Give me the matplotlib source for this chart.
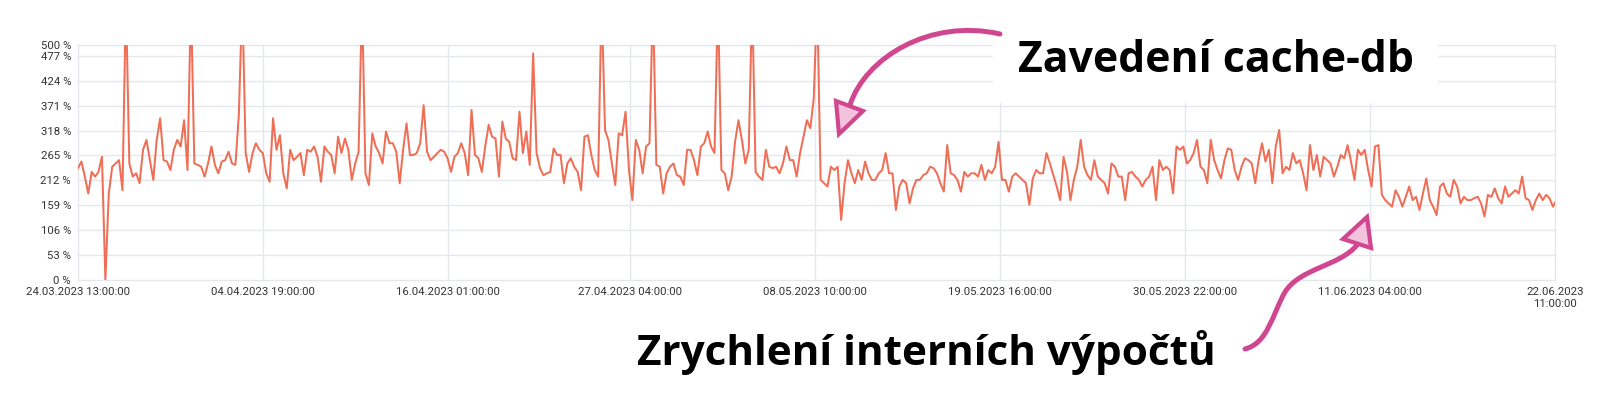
import matplotlib
matplotlib.use('Agg')
import matplotlib.pyplot as plt
import pandas as pd
from matplotlib.patches import Rectangle, PathPatch, Polygon
from matplotlib.path import Path
from matplotlib.transforms import Affine2D

# ratio values in %, one reading every 5 hours from 24.03.2023 13:00
START = '2023-03-24 13:00'
STEP = '5h'

seg_mar_apr = [238, 252, 220, 184, 230, 220, 230, 262, 0, 184,
               241, 248, 255, 191, 600, 248, 220, 227, 206, 277,
               298, 255, 213, 298, 344, 255, 252, 234, 277, 298,
               284, 340, 234, 600, 248, 245, 241, 220, 248, 284,
               245, 227, 252, 255, 273, 248, 245, 351, 600, 270,
               230, 270, 291, 277, 270, 227, 209, 344, 277, 308,
               227, 195, 277, 255, 262, 270, 223, 277, 273, 284,
               262, 209, 284]
seg_apr = [273, 266, 227, 305, 270, 301, 277, 213, 248, 273,
           600, 227, 202, 312, 284, 270, 248, 316, 291, 291,
           273, 206, 277, 333, 266, 266, 270, 291, 372, 273,
           255, 262, 270, 277, 273, 259, 230, 262, 270, 291,
           270, 223, 362, 266, 259, 230, 284, 330, 305, 301,
           220, 337, 301, 294, 259, 255, 358, 270, 316, 245,
           482, 270, 238, 223, 227, 230, 280, 266, 266, 206,
           248, 259, 241]
seg_apr_may = [230, 191, 305, 308, 266, 234, 220, 600, 319, 298,
               248, 202, 312, 308, 358, 234, 170, 298, 277, 227,
               284, 291, 600, 245, 241, 184, 227, 241, 248, 223,
               220, 202, 277, 277, 255, 223, 284, 291, 316, 284,
               270, 600, 234, 227, 191, 220, 294, 340, 298, 248,
               277, 600, 230, 220, 213, 277, 241, 238, 241, 227,
               248, 284, 255, 255, 220, 270, 305, 340, 323, 387,
               600, 213, 206]
seg_may = [199, 241, 234, 241, 128, 206, 255, 227, 206, 234,
           213, 252, 227, 213, 213, 227, 234, 270, 227, 227,
           149, 199, 213, 206, 163, 195, 213, 213, 223, 227,
           241, 238, 227, 206, 188, 287, 227, 223, 213, 188,
           230, 220, 227, 227, 220, 245, 213, 234, 227, 241,
           294, 213, 213, 188, 220, 227, 220, 213, 206, 160,
           216, 234, 227, 227, 270, 248, 223, 199, 170, 262,
           230, 170, 213]
seg_may_jun = [241, 298, 241, 223, 213, 255, 220, 213, 206, 184,
               248, 241, 220, 220, 170, 227, 230, 220, 213, 199,
               213, 220, 241, 170, 255, 234, 241, 234, 184, 284,
               277, 284, 248, 255, 270, 298, 241, 234, 206, 298,
               255, 234, 216, 255, 280, 277, 234, 213, 241, 259,
               255, 248, 206, 255, 291, 252, 277, 206, 284, 319,
               227, 241, 234, 270, 248, 255, 227, 191, 287, 234,
               266, 220, 262]
seg_jun = [255, 248, 220, 241, 266, 259, 287, 252, 213, 277,
           266, 277, 234, 199, 284, 287, 181, 170, 163, 156,
           191, 177, 156, 177, 199, 170, 177, 149, 184, 216,
           170, 156, 138, 199, 206, 184, 177, 213, 199, 163,
           177, 170, 170, 174, 177, 163, 135, 181, 177, 195,
           174, 163, 199, 177, 184, 191, 184, 220, 174, 170,
           149, 170, 184, 170, 181, 174, 156, 170]

tick_stamps = ['2023-03-24 13:00', '2023-04-04 19:00', '2023-04-16 01:00',
               '2023-04-27 04:00', '2023-05-08 10:00', '2023-05-19 16:00',
               '2023-05-30 22:00', '2023-06-11 04:00', '2023-06-22 11:00']
y_ticks = [0, 53, 106, 159, 212, 265, 318, 371, 424, 477, 500]

note_top = 'Zavedení cache-db'
note_bottom = 'Zrychlení interních výpočtů'

LINE = '#ef6f56'
GRID = '#e4e7eb'
MAGENTA = '#d0478f'
PINK = '#f3c2dd'

W, H = 1599, 394

plt.rcParams['font.family'] = ['Roboto', 'DejaVu Sans']

ratio = seg_mar_apr + seg_apr + seg_apr_may + seg_may + seg_may_jun + seg_jun
times = pd.date_range(START, periods=len(ratio), freq=STEP)
ticks = pd.to_datetime(tick_stamps)
tick_labels = [t.strftime('%d.%m.%Y %H:%M:%S') for t in ticks]
tick_labels[-1] = tick_labels[-1].replace(' ', '\n')

fig = plt.figure(figsize=(W / 100, H / 100), dpi=100)
fig.patch.set_facecolor('white')

# pixel coordinates, origin top-left
px = Affine2D().scale(1 / W, -1 / H).translate(0, 1) + fig.transFigure

ax = fig.add_axes([78 / W, 1 - 280 / H, (1555 - 78) / W, (280 - 45) / H])
ax.plot(times, ratio, color=LINE, lw=1.45, zorder=3)

ax.set_ylim(0, 500)
ax.set_xlim(ticks[0], ticks[-1])
ax.set_yticks(y_ticks)
ax.set_yticklabels([f'{v} %' for v in y_ticks])
ax.set_xticks(ticks)
ax.set_xticklabels(tick_labels, multialignment='center')
ax.tick_params(length=0, labelsize=8.2, colors='#333333', pad=5)

for s in ax.spines.values():
    s.set_visible(False)
ax.set_axisbelow(True)
ax.grid(color=GRID, lw=1.0)
for gl in ax.get_xgridlines() + ax.get_ygridlines():
    gl.set_clip_on(False)

# white label box that hides the grid under the top note
fig.add_artist(Rectangle((993, 0), 1438 - 993, 103, transform=px,
                         fc='white', ec='none', zorder=4))

fig.text(1018 / W, 1 - 72 / H, note_top, fontfamily='Open Sans',
         fontweight='bold', fontsize=30.8, color='black',
         ha='left', va='baseline', zorder=8)
fig.text(637 / W, 1 - 365 / H, note_bottom, fontfamily='Open Sans',
         fontweight='bold', fontsize=30.4, color='black',
         ha='left', va='baseline', zorder=8)


def draw_arrow(segments, head):
    verts = [segments[0][0]]
    codes = [Path.MOVETO]
    for seg in segments:
        verts += seg[1:]
        codes += [Path.CURVE4] * 3
    body = PathPatch(Path(verts, codes), transform=px, fill=False,
                     ec=MAGENTA, lw=3.6, capstyle='round', zorder=6)
    fig.add_artist(body)
    tip = Polygon(head, closed=True, transform=px, fc=PINK, ec=MAGENTA,
                  lw=3.0, joinstyle='miter', zorder=7)
    fig.add_artist(tip)


draw_arrow([[(1000, 34), (930, 18), (865, 58), (850, 105)]],
           [(836, 101), (863, 111), (839, 134)])
draw_arrow([[(1357, 245), (1340, 266), (1300, 268), (1285, 292)],
            [(1285, 292), (1272, 315), (1268, 343), (1245, 349)]],
           [(1343, 239), (1367, 217), (1371, 248)])

fig.savefig('out.png', dpi=100)
